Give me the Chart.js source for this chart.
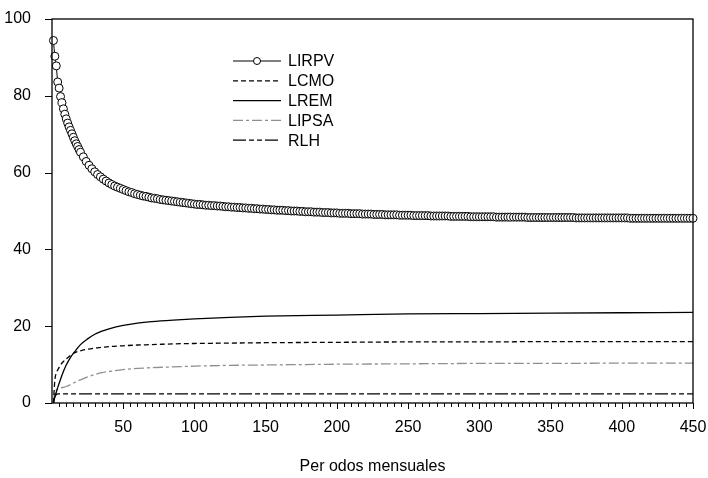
<!DOCTYPE html>
<html><head><meta charset="utf-8">
<script src="https://cdn.jsdelivr.net/npm/chart.js@4/dist/chart.umd.min.js"></script>
<style>html,body{margin:0;padding:0;background:#fff}canvas{display:block}</style>
</head><body>
<canvas id="c" width="708" height="478"></canvas>
<script>
const seriesNames = ['LIRPV', 'LCMO', 'LREM', 'LIPSA', 'RLH'];

const lirpvPeriods = [
  1,2,3,4,5,6,7,8,9,10,11,12,13,14,15,16,17,18,19,20,
  22,24,26,28,30,32,34,36,38,40,42,44,46,48,50,52,54,56,58,60,
  62,64,66,68,70,72,74,76,78,80,
  82,84,86,88,90,92,94,96,98,100,
  102,104,106,108,110,112,114,116,118,120,
  122,124,126,128,130,132,134,136,138,140,
  142,144,146,148,150,152,154,156,158,160,
  162,164,166,168,170,172,174,176,178,180,
  182,184,186,188,190,192,194,196,198,200,
  202,204,206,208,210,212,214,216,218,220,
  222,224,226,228,230,232,234,236,238,240,
  242,244,246,248,250,252,254,256,258,260,
  262,264,266,268,270,272,274,276,278,280,
  282,284,286,288,290,292,294,296,298,300,
  302,304,306,308,310,312,314,316,318,320,
  322,324,326,328,330,332,334,336,338,340,
  342,344,346,348,350,352,354,356,358,360,
  362,364,366,368,370,372,374,376,378,380,
  382,384,386,388,390,392,394,396,398,400,
  402,404,406,408,410,412,414,416,418,420,
  422,424,426,428,430,432,434,436,438,440,
  442,444,446,448,450
];
const lirpvValues = [
  94.4,90.3,87.8,83.6,82.0,79.8,78.2,76.6,75.2,74.0,72.9,71.9,71.0,70.1,69.2,68.3,67.5,66.8,66.0,65.3,
  64.1,62.9,61.9,61.0,60.2,59.5,58.9,58.3,57.8,57.3,56.9,56.5,56.2,55.9,55.6,55.3,55.0,54.8,54.5,54.3,
  54.1,53.9,53.8,53.6,53.4,53.3,53.2,53.0,52.9,52.8,
  52.7,52.6,52.5,52.4,52.3,52.2,52.1,52.0,51.9,51.8,
  51.7,51.7,51.6,51.5,51.5,51.4,51.4,51.3,51.3,51.2,
  51.1,51.1,51.0,51.0,50.9,50.9,50.8,50.8,50.7,50.7,
  50.6,50.6,50.5,50.5,50.4,50.4,50.3,50.3,50.2,50.2,
  50.2,50.1,50.1,50.0,50.0,50.0,49.9,49.9,49.8,49.8,
  49.8,49.7,49.7,49.7,49.6,49.6,49.6,49.5,49.5,49.5,
  49.4,49.4,49.4,49.4,49.3,49.3,49.3,49.3,49.2,49.2,
  49.2,49.2,49.1,49.1,49.1,49.1,49.0,49.0,49.0,49.0,
  49.0,48.9,48.9,48.9,48.9,48.9,48.8,48.8,48.8,48.8,
  48.8,48.8,48.7,48.7,48.7,48.7,48.7,48.7,48.7,48.6,
  48.6,48.6,48.6,48.6,48.6,48.6,48.5,48.5,48.5,48.5,
  48.5,48.5,48.5,48.5,48.5,48.4,48.4,48.4,48.4,48.4,
  48.4,48.4,48.4,48.4,48.4,48.4,48.3,48.3,48.3,48.3,
  48.3,48.3,48.3,48.3,48.3,48.3,48.3,48.3,48.3,48.3,
  48.3,48.3,48.3,48.2,48.2,48.2,48.2,48.2,48.2,48.2,
  48.2,48.2,48.2,48.2,48.2,48.2,48.2,48.2,48.2,48.2,
  48.2,48.2,48.1,48.1,48.1,48.1,48.1,48.1,48.1,48.1,
  48.1,48.1,48.1,48.1,48.1,48.1,48.1,48.1,48.1,48.1,
  48.1,48.1,48.1,48.1,48.1
];

const curvePeriods = [1,2,3,4,6,8,10,13,16,20,25,30,35,40,50,60,70,85,100,125,150,200,250,300,350,400,450];
const lcmoValues  = [0,6.0,7.8,8.6,9.9,10.8,11.5,12.4,13.1,13.6,14.0,14.3,14.5,14.7,14.9,15.1,15.2,15.4,15.5,15.6,15.7,15.8,15.9,15.9,16.0,16.0,16.0];
const lremValues  = [0,1.6,2.8,4.0,6.2,8.2,9.9,11.9,13.4,15.2,16.7,17.9,18.7,19.3,20.2,20.8,21.2,21.6,21.9,22.3,22.6,22.9,23.2,23.3,23.4,23.5,23.6];
const lipsaValues = [0,3.0,3.4,3.6,3.9,4.1,4.3,4.8,5.4,6.0,6.8,7.4,7.9,8.2,8.7,9.0,9.2,9.4,9.6,9.8,9.9,10.1,10.2,10.3,10.3,10.4,10.4];
const rlhValues   = [0,1.6,2.2,2.4,2.4,2.4,2.4,2.4,2.4,2.4,2.4,2.4,2.4,2.4,2.4,2.4,2.4,2.4,2.4,2.4,2.4,2.4,2.4,2.4,2.4,2.4,2.4];

const xTickLabels = [50,100,150,200,250,300,350,400,450];
const yTickLabels = [0,20,40,60,80,100];
const xAxisTitle = 'Per odos mensuales';

const FONT = '"Liberation Sans", Arial, Helvetica, sans-serif';

function pts(xs, ys) { return xs.map((x, i) => ({x, y: ys[i]})); }

const frameTicks = {
  id: 'frameTicks',
  afterDraw(chart) {
    const {ctx, chartArea: a, scales} = chart;
    const xs = scales.x, ys = scales.y;
    ctx.save();
    ctx.strokeStyle = '#000';
    ctx.lineWidth = 1;
    for (let v = 5; v <= 450; v += 5) {
      const px = Math.round(xs.getPixelForValue(v)) + 0.5;
      const len = (v % 50 === 0) ? 6 : 4;
      ctx.beginPath(); ctx.moveTo(px, a.bottom); ctx.lineTo(px, a.bottom + len); ctx.stroke();
    }
    yTickLabels.forEach(v => {
      const py = Math.round(ys.getPixelForValue(v)) + 0.5;
      ctx.beginPath(); ctx.moveTo(a.left - 7, py); ctx.lineTo(a.left, py); ctx.stroke();
    });
    ctx.lineWidth = 1.3;
    ctx.strokeRect(a.left, a.top, a.right - a.left, a.bottom - a.top);

    const lx0 = 233, lx1 = 281, tx = 288, ly0 = 61, dy = 19.8;
    ctx.font = '16px ' + FONT;
    ctx.textBaseline = 'middle';
    ctx.fillStyle = '#000';
    chart.data.datasets.forEach((ds, i) => {
      const y = ly0 + i * dy;
      ctx.save();
      ctx.strokeStyle = ds.borderColor;
      ctx.lineWidth = ds.borderWidth;
      ctx.setLineDash(ds.borderDash || []);
      ctx.beginPath(); ctx.moveTo(lx0, y); ctx.lineTo(lx1, y); ctx.stroke();
      ctx.restore();
      if (ds.pointRadius > 0) {
        ctx.save();
        ctx.beginPath(); ctx.arc((lx0 + lx1) / 2, y, 3.5, 0, Math.PI * 2);
        ctx.fillStyle = '#fff'; ctx.fill();
        ctx.strokeStyle = '#000'; ctx.lineWidth = 1; ctx.stroke();
        ctx.restore();
      }
      ctx.fillText(ds.label, tx, y + 1);
    });
    ctx.restore();
  }
};

new Chart(document.getElementById('c'), {
  type: 'line',
  data: {
    datasets: [
      { label: seriesNames[0], data: pts(lirpvPeriods, lirpvValues), borderColor: '#000', borderWidth: 1,
        pointRadius: 4, pointBorderWidth: 1, pointBackgroundColor: '#fff', pointBorderColor: '#000',
        cubicInterpolationMode: 'monotone', clip: 6, order: 0 },
      { label: seriesNames[1], data: pts(curvePeriods, lcmoValues), borderColor: '#000', borderWidth: 1.3,
        borderDash: [5, 3], pointRadius: 0, cubicInterpolationMode: 'monotone', order: 1 },
      { label: seriesNames[2], data: pts(curvePeriods, lremValues), borderColor: '#000', borderWidth: 1.3,
        pointRadius: 0, cubicInterpolationMode: 'monotone', order: 2 },
      { label: seriesNames[3], data: pts(curvePeriods, lipsaValues), borderColor: '#8f8f8f', borderWidth: 1.3,
        borderDash: [10, 3, 3, 3], pointRadius: 0, cubicInterpolationMode: 'monotone', order: 3 },
      { label: seriesNames[4], data: pts(curvePeriods, rlhValues), borderColor: '#000', borderWidth: 1.3,
        borderDash: [13, 3, 5, 3, 5, 3], pointRadius: 0, cubicInterpolationMode: 'monotone', order: 4 }
    ]
  },
  options: {
    responsive: false,
    animation: false,
    devicePixelRatio: 1,
    layout: { padding: { top: 19, right: 15, left: 0, bottom: 0 } },
    plugins: { legend: { display: false }, tooltip: { enabled: false } },
    scales: {
      x: {
        type: 'linear', min: 0, max: 450,
        afterFit: s => { s.height = 75; s.paddingLeft = 0; s.paddingRight = 0; },
        grid: { display: false, drawTicks: false },
        border: { display: false },
        afterBuildTicks: s => { s.ticks = xTickLabels.map(v => ({value: v})); },
        ticks: { color: '#000', font: { family: FONT, size: 16 }, padding: 15, maxRotation: 0, autoSkip: false },
        title: { display: true, text: xAxisTitle, color: '#000', font: { family: FONT, size: 16 }, padding: { top: 0, bottom: 2 } }
      },
      y: {
        min: 0, max: 100,
        afterFit: s => { s.width = 52; s.paddingTop = 0; s.paddingBottom = 0; },
        grid: { display: false, drawTicks: false },
        border: { display: false },
        afterBuildTicks: s => { s.ticks = yTickLabels.map(v => ({value: v})); },
        ticks: { color: '#000', font: { family: FONT, size: 16 }, padding: 21, autoSkip: false }
      }
    }
  },
  plugins: [frameTicks]
});
</script>
</body></html>
